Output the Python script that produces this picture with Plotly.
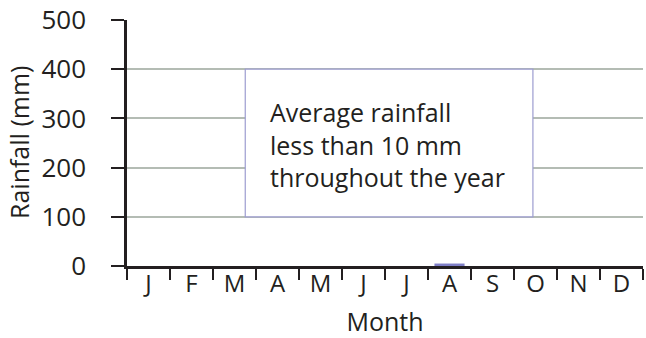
import plotly.graph_objects as go

# Monthly rainfall (mm)
months = ["J", "F", "M", "A", "M", "J", "J", "A", "S", "O", "N", "D"]
month_ids = list(range(len(months)))
rainfall = [0, 0, 0, 0, 0, 0, 0, 5, 0, 0, 0, 0]
y_ticks = [0, 100, 200, 300, 400, 500]
note_lines = ["Average rainfall", "less than 10 mm", "throughout the year"]

ink = "#231f20"
font_family = "Open Sans, Noto Sans, sans-serif"

fig = go.Figure()
fig.add_trace(go.Bar(
    x=month_ids,
    y=rainfall,
    width=0.7,
    marker=dict(color="#7f7fc6", line=dict(width=0)),
    hoverinfo="skip",
))

# Note box with explanatory text
fig.add_shape(
    type="rect", xref="x", yref="y",
    x0=2.25, x1=8.94, y0=100, y1=400,
    fillcolor="white", line=dict(color="#9d9dd0", width=1.2),
    layer="above",
)
fig.add_annotation(
    x=2.78, y=247, xref="x", yref="y",
    text="<br>".join(note_lines),
    showarrow=False, xanchor="left", yanchor="middle", align="left",
    font=dict(family=font_family, size=25, color=ink),
)

# Vertical axis title
fig.add_annotation(
    x=0, y=0.5, xref="paper", yref="paper", xshift=-108,
    text="Rainfall (mm)", textangle=-90,
    showarrow=False, xanchor="center", yanchor="middle",
    font=dict(family=font_family, size=25, color=ink),
)

fig.update_layout(
    width=646, height=338,
    margin=dict(l=127, r=3, t=20, b=72),
    paper_bgcolor="white", plot_bgcolor="white",
    showlegend=False,
    font=dict(family=font_family, size=24, color=ink),
    bargap=0.3,
)
fig.update_xaxes(
    range=[-0.5, 11.5],
    tickmode="array", tickvals=month_ids, ticktext=months,
    # month labels sit at the centres; visible ticks mark the month boundaries
    ticks="outside", ticklen=11, tickwidth=1.5, tickcolor="rgba(0,0,0,0)",
    minor=dict(ticks="outside", ticklen=11, tickwidth=1.5, tickcolor=ink,
               tickmode="linear", tick0=-0.5, dtick=1, showgrid=False),
    showline=True, linecolor=ink, linewidth=2.5,
    showgrid=False, zeroline=False,
    tickfont=dict(size=24, color=ink),
    ticklabelstandoff=-17,
    automargin=False,
    title=dict(text="Month", font=dict(size=25, color=ink), standoff=27),
)
fig.update_yaxes(
    range=[0, 500],
    tickvals=y_ticks,
    ticks="outside", ticklen=13, tickwidth=1.5, tickcolor=ink,
    showline=True, linecolor=ink, linewidth=2.5,
    showgrid=True, gridcolor="#b4bcb4", gridwidth=1.5,
    zeroline=False,
    tickfont=dict(size=26, color=ink),
    ticklabelstandoff=20,
    automargin=False,
)

fig.write_html("out.html")
